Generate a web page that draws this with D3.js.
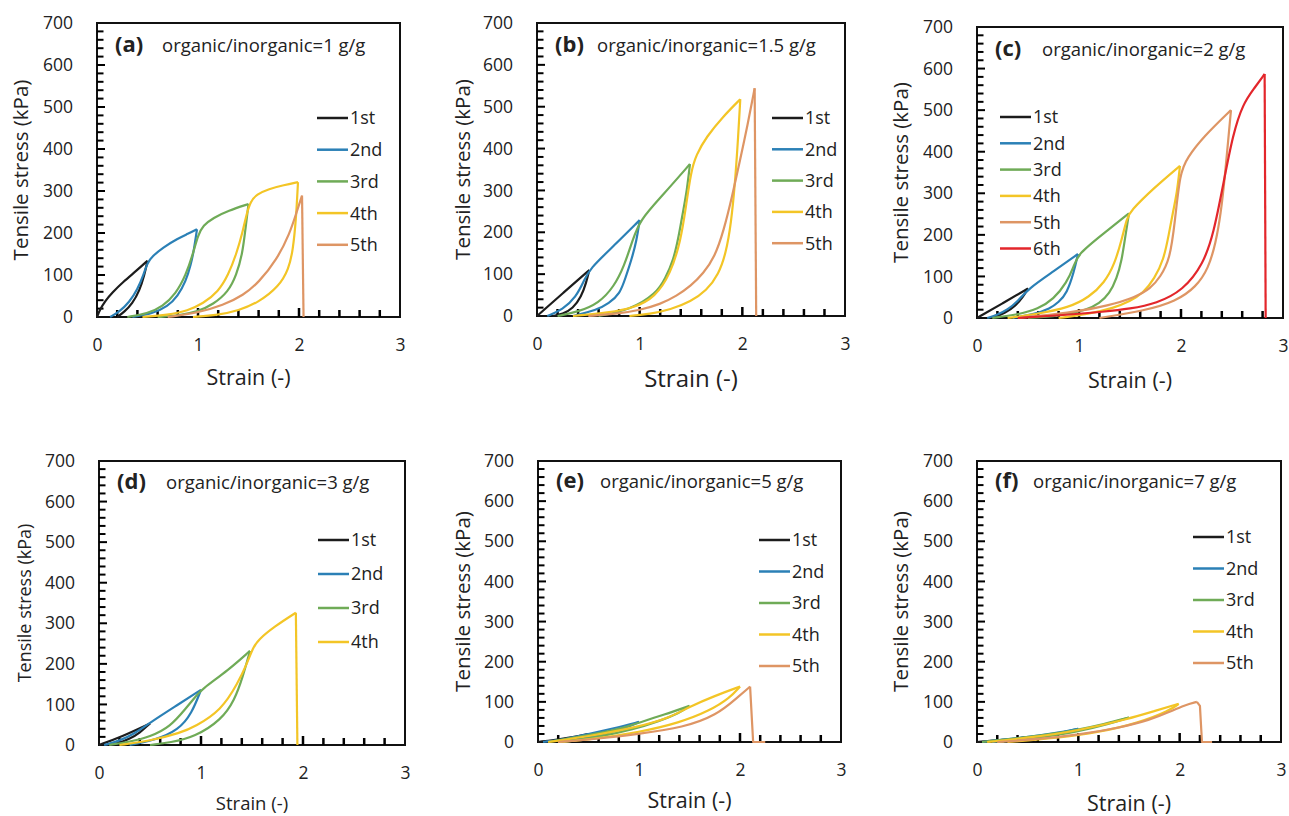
<!DOCTYPE html>
<html>
<head>
<meta charset="utf-8">
<script src="https://cdn.jsdelivr.net/npm/d3@7"></script>
<style>
  body { margin: 0; background: #fff; }
  svg text { font-family: "Open Sans", sans-serif; fill: #222; }
</style>
</head>
<body>
<svg id="chart" width="1289" height="816"></svg>
<script>
// panel captions
var panelLetters = ["(a)", "(b)", "(c)", "(d)", "(e)", "(f)"];
var ratioLabels = ["organic/inorganic=1 g/g", "organic/inorganic=1.5 g/g", "organic/inorganic=2 g/g",
                   "organic/inorganic=3 g/g", "organic/inorganic=5 g/g", "organic/inorganic=7 g/g"];
var cycleNames = ["1st", "2nd", "3rd", "4th", "5th", "6th"];
var cycleColors = ["#1c1c1c", "#2b80b6", "#6fab57", "#f3c526", "#de9564", "#e3262b"];
var strainTicks = [0, 1, 2, 3];
var stressTicks = [0, 100, 200, 300, 400, 500, 600, 700];

// each cycle: [strain, stress] going up the loading curve, then back down the unloading curve
var cyclesA = [
    [[0, 0], [0.03, 18], [0.08, 38], [0.15, 58], [0.26, 84], [0.39, 110], [0.5, 134], [0.47, 100], [0.42, 62], [0.35, 32], [0.27, 12], [0.2, 0]],
    [[0.13, 0], [0.22, 12], [0.32, 35], [0.4, 65], [0.46, 100], [0.5, 130], [0.55, 145], [0.65, 165], [0.8, 187], [0.9, 198], [0.99, 209],
     [0.96, 160], [0.93, 125], [0.88, 85], [0.8, 50], [0.7, 25], [0.55, 8], [0.35, 0]],
    [[0.3, 0], [0.5, 8], [0.65, 25], [0.78, 55], [0.88, 100], [0.95, 150], [1.0, 195], [1.05, 218], [1.15, 236], [1.3, 253], [1.5, 269],
     [1.47, 210], [1.44, 150], [1.38, 100], [1.3, 60], [1.15, 30], [1.0, 13], [0.8, 3], [0.6, 0]],
    [[0.45, 0], [0.7, 5], [0.9, 15], [1.05, 32], [1.2, 60], [1.3, 100], [1.38, 150], [1.44, 200], [1.48, 245], [1.52, 275], [1.58, 292],
     [1.7, 305], [1.85, 314], [1.99, 321],
     [1.97, 230], [1.94, 160], [1.9, 115], [1.8, 72], [1.6, 35], [1.4, 15], [1.2, 5], [0.95, 0]],
    [[0.7, 0], [1.0, 10], [1.25, 28], [1.45, 52], [1.6, 82], [1.78, 136], [1.91, 200], [1.97, 245], [2.03, 289], [2.045, 0]]
];
var cyclesB = [
    [[0, 0], [0.25, 54], [0.51, 110], [0.48, 80], [0.43, 45], [0.35, 18], [0.25, 4], [0.15, 0]],
    [[0.1, 0], [0.25, 15], [0.38, 45], [0.46, 85], [0.51, 112], [0.75, 168], [1.0, 229],
     [0.97, 180], [0.92, 134], [0.86, 90], [0.81, 54], [0.7, 30], [0.58, 14], [0.35, 0]],
    [[0.2, 0], [0.4, 10], [0.6, 30], [0.75, 70], [0.85, 120], [0.93, 180], [1.0, 229], [1.23, 290], [1.49, 363],
     [1.46, 300], [1.425, 253], [1.38, 190], [1.33, 134], [1.25, 90], [1.165, 54], [0.905, 14], [0.6, 0]],
    [[0.35, 0], [0.7, 8], [0.95, 20], [1.15, 45], [1.3, 100], [1.4, 180], [1.45, 260], [1.5, 345], [1.55, 385], [1.65, 428],
     [1.81, 476], [1.98, 518],
     [1.96, 430], [1.93, 320], [1.89, 220], [1.84, 150], [1.77, 100], [1.65, 60], [1.5, 35], [1.3, 15], [1.1, 5], [0.9, 0]],
    [[0.5, 0], [0.8, 6], [1.0, 14], [1.2, 28], [1.36, 48], [1.5, 72], [1.62, 102], [1.73, 140], [1.82, 205], [1.9, 285],
     [1.98, 375], [2.05, 455], [2.12, 544], [2.135, 0]]
];
var cyclesC = [
    [[0, 0], [0.25, 35], [0.5, 71], [0.45, 50], [0.38, 30], [0.28, 12], [0.15, 0]],
    [[0.1, 0], [0.2, 8], [0.3, 20], [0.4, 40], [0.5, 70], [0.75, 112], [0.99, 154],
     [0.95, 110], [0.88, 59], [0.8, 38], [0.72, 23], [0.55, 8], [0.35, 0]],
    [[0.15, 0], [0.4, 8], [0.6, 22], [0.75, 45], [0.88, 85], [0.95, 125], [0.99, 154], [1.24, 203], [1.49, 252],
     [1.45, 190], [1.42, 140], [1.37, 95], [1.3, 59], [1.2, 35], [1.075, 19], [0.8, 5], [0.5, 0]],
    [[0.3, 0], [0.6, 10], [0.9, 25], [1.1, 50], [1.25, 85], [1.35, 130], [1.42, 190], [1.47, 240], [1.5, 256], [1.73, 312], [1.99, 366],
     [1.96, 300], [1.925, 260], [1.88, 200], [1.83, 140], [1.74, 95], [1.63, 60], [1.5, 40], [1.34, 24], [1.1, 10], [0.8, 0]],
    [[0.4, 0], [0.9, 12], [1.3, 30], [1.55, 50], [1.7, 70], [1.8, 100], [1.89, 140], [1.94, 230], [1.99, 350], [2.06, 385],
     [2.22, 436], [2.49, 500],
     [2.46, 420], [2.43, 340], [2.39, 250], [2.34, 180], [2.27, 120], [2.15, 75], [1.95, 40], [1.65, 18], [1.2, 0]],
    [[0.4, 0], [0.9, 8], [1.24, 15], [1.5, 22], [1.76, 35], [2.02, 66], [2.22, 130], [2.32, 204], [2.41, 316], [2.51, 444],
     [2.61, 516], [2.71, 550], [2.82, 587], [2.83, 0]]
];
var cyclesD = [
    [[0, 0], [0.22, 20], [0.5, 53], [0.4, 30], [0.3, 15], [0.2, 5], [0.1, 0]],
    [[0.05, 0], [0.2, 10], [0.35, 28], [0.5, 55], [0.74, 94], [1.0, 136], [0.91, 78], [0.78, 37], [0.55, 12], [0.3, 0]],
    [[0.1, 0], [0.3, 8], [0.5, 20], [0.7, 45], [0.85, 90], [0.95, 120], [1.0, 136], [1.27, 185], [1.48, 232],
     [1.41, 168], [1.33, 111], [1.2, 62], [0.94, 20], [0.7, 6], [0.5, 0]],
    [[0.2, 0], [0.5, 10], [0.8, 30], [0.94, 45], [1.2, 86], [1.36, 152], [1.45, 200], [1.51, 240], [1.56, 259], [1.72, 292],
     [1.93, 326], [1.945, 0]]
];
var cyclesE = [
    [[0, 0], [0.25, 8], [0.5, 20], [0.4, 12], [0.25, 4], [0.1, 0]],
    [[0.05, 0], [0.3, 8], [0.5, 20], [0.75, 34], [1.0, 50], [0.9, 38], [0.7, 22], [0.45, 8], [0.2, 0]],
    [[0.1, 0], [0.5, 17], [0.8, 32], [1.0, 48], [1.25, 68], [1.5, 90], [1.4, 72], [1.2, 52], [0.95, 32], [0.6, 12], [0.25, 0]],
    [[0.1, 0], [0.5, 14], [1.0, 38], [1.3, 60], [1.5, 88], [1.75, 115], [2.0, 138],
     [1.9, 110], [1.7, 78], [1.4, 48], [1.0, 24], [0.5, 6], [0.2, 0]],
    [[0.2, 0], [0.6, 8], [1.0, 20], [1.44, 36], [1.77, 67], [1.97, 110], [2.1, 138], [2.13, 0], [2.25, 0]]
];
var cyclesF = [
    [[0, 0], [0.25, 5], [0.5, 12], [0.4, 8], [0.25, 3], [0.1, 0]],
    [[0.05, 0], [0.5, 12], [0.75, 21], [1.0, 33], [0.85, 24], [0.6, 12], [0.35, 4], [0.15, 0]],
    [[0.05, 0], [0.5, 12], [1.0, 30], [1.25, 44], [1.5, 61], [1.3, 45], [1.0, 26], [0.6, 10], [0.2, 0]],
    [[0.1, 0], [0.5, 10], [1.0, 28], [1.5, 58], [1.75, 77], [1.99, 95], [1.9, 78], [1.6, 48], [1.2, 24], [0.8, 10], [0.3, 0]],
    [[0.2, 0], [0.6, 7], [1.0, 18], [1.4, 35], [1.71, 55], [1.9, 75], [2.05, 92], [2.17, 100], [2.2, 90], [2.22, 0], [2.32, 0]]
];
var allCycles = [cyclesA, cyclesB, cyclesC, cyclesD, cyclesE, cyclesF];

// layout of the six panels (pixel boxes)
var layout = [
    {l: 97, r: 400, t: 23, b: 317, yT: 28, yTs: 20.5, xTb: 385, xTs: 21.5, capY: 52, ratioX: 65, legX: 317, legY: 118, legDy: 31.7},
    {l: 537, r: 845, t: 23, b: 316, yT: 470, yTs: 20.5, xTb: 387, xTs: 24, capY: 52, ratioX: 60, legX: 772, legY: 118, legDy: 31.3},
    {l: 977, r: 1283, t: 27, b: 318, yT: 908, yTs: 20.5, xTb: 388, xTs: 21.5, capY: 56, ratioX: 65, legX: 1000, legY: 117, legDy: 26.3},
    {l: 99, r: 405, t: 461, b: 745, yT: 31, yTs: 18, xTb: 810, xTs: 18.5, capY: 489, ratioX: 67, legX: 318, legY: 540, legDy: 34},
    {l: 538, r: 841, t: 461, b: 742, yT: 470, yTs: 20.5, xTb: 808, xTs: 21.5, capY: 488, ratioX: 62, legX: 759, legY: 540, legDy: 31.5},
    {l: 977, r: 1281, t: 461, b: 742, yT: 908, yTs: 20.5, xTb: 811, xTs: 21.5, capY: 488, ratioX: 56, legX: 1193, legY: 537, legDy: 31.5}
];

var svg = d3.select("#chart");

// split a cycle at its peak into loading and unloading branches, both ordered by strain
function branches(pts) {
    var k = d3.maxIndex(pts, function(d) { return d[1]; });
    var load = pts.slice(0, k + 1);
    var unload = pts.slice(k).sort(function(p, q) { return p[0] - q[0]; });
    return [load, unload];
}

layout.forEach(function(box, i) {
    var x = d3.scaleLinear().domain([0, 3]).range([box.l, box.r]);
    var y = d3.scaleLinear().domain([0, 700]).range([box.b, box.t]);
    var g = svg.append("g");

    // frame
    g.append("rect")
        .attr("x", box.l).attr("y", box.t)
        .attr("width", box.r - box.l).attr("height", box.b - box.t)
        .attr("fill", "none").attr("stroke", "#111").attr("stroke-width", 2);

    // inward ticks every 0.2 strain and every 20 kPa
    var xMinor = d3.range(1, 15).map(function(k) { return k * 0.2; });
    g.append("g").attr("class", "xticks").selectAll("line")
        .data(xMinor)
        .enter().append("line")
        .attr("x1", function(d) { return x(d); })
        .attr("x2", function(d) { return x(d); })
        .attr("y1", box.b)
        .attr("y2", function(d, k) { return box.b - ((k + 1) % 5 === 0 ? 9 : 7); })
        .style("stroke", "black")
        .style("stroke-width", "2.5px");

    var yMinor = d3.range(1, 35).map(function(k) { return k * 20; });
    g.append("g").attr("class", "yticks").selectAll("line")
        .data(yMinor)
        .enter().append("line")
        .attr("x1", box.l)
        .attr("x2", function(d, k) { return box.l + ((k + 1) % 5 === 0 ? 8 : 6.5); })
        .attr("y1", function(d) { return y(d); })
        .attr("y2", function(d) { return y(d); })
        .style("stroke", "black")
        .style("stroke-width", "2px");

    // tick labels
    var xa = g.append("g")
        .attr("transform", "translate(0," + box.b + ")")
        .call(d3.axisBottom(x).tickValues(strainTicks).tickSize(0).tickPadding(22).tickFormat(d3.format("d")));
    xa.select(".domain").remove();
    xa.attr("font-family", null).attr("font-size", null);
    xa.selectAll("text").attr("font-size", 17.5).attr("fill", "#222");

    var ya = g.append("g")
        .attr("transform", "translate(" + box.l + ",0)")
        .call(d3.axisLeft(y).tickValues(stressTicks).tickSize(0).tickPadding(24));
    ya.select(".domain").remove();
    ya.attr("font-family", null).attr("font-size", null);
    ya.selectAll("text").attr("font-size", 17.5).attr("fill", "#222");

    // curves: smooth B-spline for the loops, straight for the final break
    var smooth = d3.line()
        .x(function(d) { return x(d[0]); })
        .y(function(d) { return y(d[1]); })
        .curve(d3.curveBasis);
    var straight = d3.line()
        .x(function(d) { return x(d[0]); })
        .y(function(d) { return y(d[1]); });

    allCycles[i].forEach(function(cyc, c) {
        var peak = d3.max(cyc, function(d) { return d[1]; });
        branches(cyc).forEach(function(br) {
            var isBreak = br[0][1] === peak && br.length > 1 && br[br.length - 1][1] === 0;
            g.append("path")
                .datum(br)
                .attr("d", isBreak ? straight : smooth)
                .attr("fill", "none")
                .attr("stroke", cycleColors[c])
                .attr("stroke-width", 2.2)
                .attr("stroke-linejoin", "round");
        });
    });

    // axis titles
    g.append("text")
        .attr("transform", "translate(" + box.yT + "," + (box.t + box.b) / 2 + ") rotate(-90)")
        .attr("text-anchor", "middle")
        .attr("font-size", box.yTs)
        .text("Tensile stress (kPa)");
    g.append("text")
        .attr("x", (box.l + box.r) / 2).attr("y", box.xTb)
        .attr("text-anchor", "middle")
        .attr("font-size", box.xTs)
        .text("Strain (-)");

    // panel caption
    g.append("text")
        .attr("x", box.l + 18).attr("y", box.capY)
        .attr("font-size", 22).attr("font-weight", "bold")
        .text(panelLetters[i]);
    g.append("text")
        .attr("x", box.l + box.ratioX).attr("y", box.capY)
        .attr("font-size", 18.5)
        .text(ratioLabels[i]);

    // legend
    var leg = g.selectAll(".leg")
        .data(allCycles[i])
        .enter().append("g")
        .attr("transform", function(d, c) { return "translate(" + box.legX + "," + (box.legY + c * box.legDy) + ")"; });
    leg.append("line")
        .attr("x1", 0).attr("x2", 31)
        .attr("stroke", function(d, c) { return cycleColors[c]; })
        .attr("stroke-width", 2.5);
    leg.append("text")
        .attr("x", 33).attr("dy", "0.36em")
        .attr("font-size", 18)
        .text(function(d, c) { return cycleNames[c]; });
});
</script>
</body>
</html>
